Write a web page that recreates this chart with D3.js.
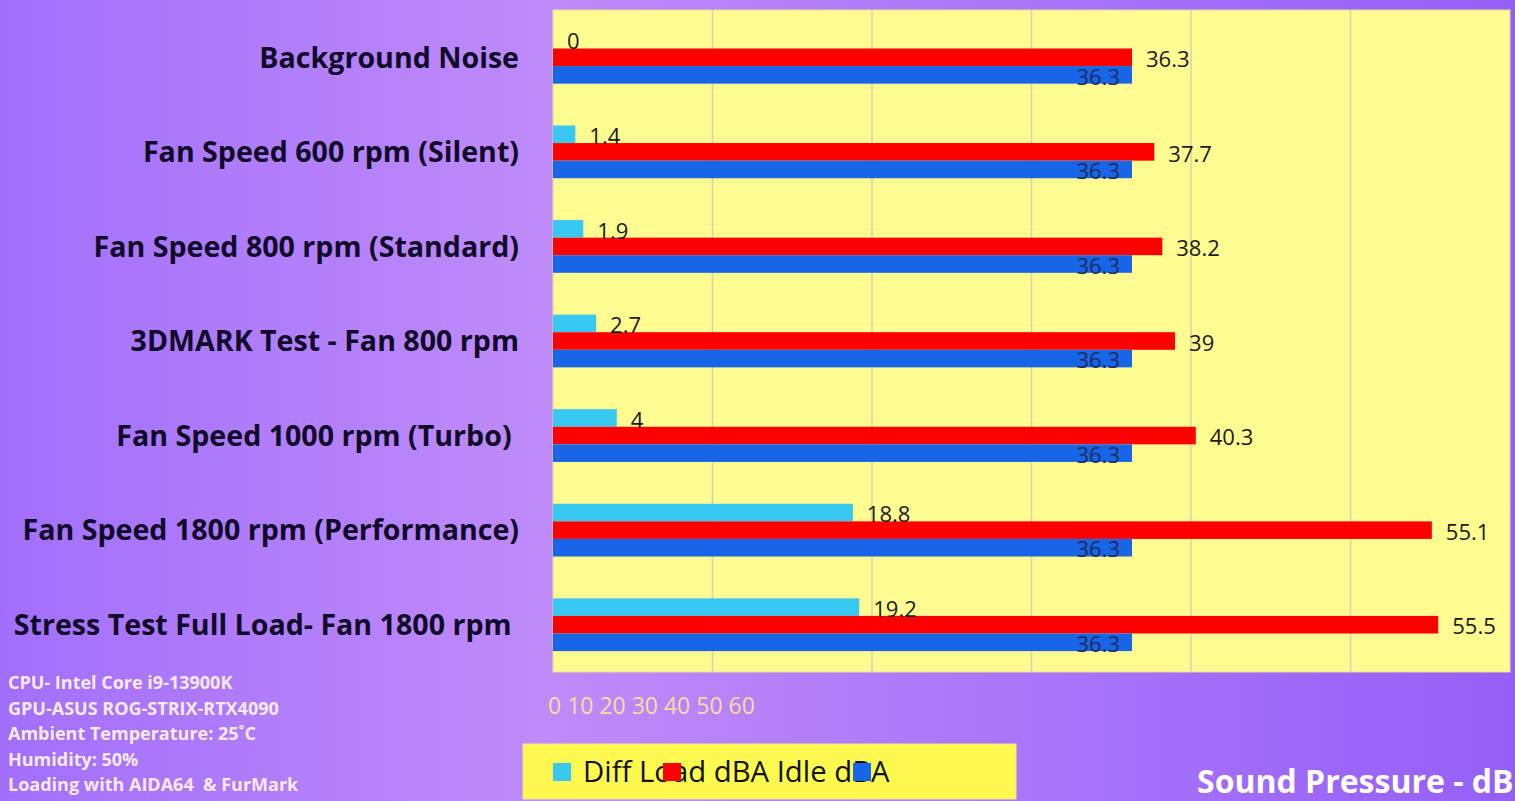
<!DOCTYPE html>
<html>
<head>
<meta charset="utf-8">
<script src="https://cdn.jsdelivr.net/npm/d3@7"></script>
<style>
    html, body { margin: 0; padding: 0; overflow: hidden; }
    text { white-space: pre; }
</style>
</head>
<body>
<svg id="chart" width="1515" height="801"></svg>
<script>
// Data
const categories = [
    "Background Noise",
    "Fan Speed 600 rpm (Silent)",
    "Fan Speed 800 rpm (Standard)",
    "3DMARK Test - Fan 800 rpm",
    "Fan Speed 1000 rpm (Turbo) ",
    "Fan Speed 1800 rpm (Performance)",
    "Stress Test Full Load- Fan 1800 rpm ",
];
const seriesNames = ["Diff", "Load dBA", "Idle dBA"];
const diffValues = [0, 1.4, 1.9, 2.7, 4, 18.8, 19.2];
const loadValues = [36.3, 37.7, 38.2, 39, 40.3, 55.1, 55.5];
const idleValues = [36.3, 36.3, 36.3, 36.3, 36.3, 36.3, 36.3];
const xDomain = [0, 60];
const notes = [
    "CPU- Intel Core i9-13900K",
    "GPU-ASUS ROG-STRIX-RTX4090",
    "Ambient Temperature: 25\u02DAC",
    "Humidity: 50%",
    "Loading with AIDA64  & FurMark",
];
const axisTitle = "Sound Pressure - dB";

const colors = { Diff: "#38c8f2", "Load dBA": "#ff0000", "Idle dBA": "#1766e8" };

const svg = d3.select("#chart");
const W = 1515, H = 801;
const plot = { left: 553, right: 1510, top: 10, bottom: 672 };

// Background gradient
const defs = svg.append("defs");
const grad = defs.append("linearGradient").attr("id", "bg").attr("x1", "0").attr("x2", "1").attr("y1", "0").attr("y2", "0");
grad.append("stop").attr("offset", "0").attr("stop-color", "#a26ffc");
grad.append("stop").attr("offset", "0.36").attr("stop-color", "#bf8bf9");
grad.append("stop").attr("offset", "0.7").attr("stop-color", "#a774fa");
grad.append("stop").attr("offset", "1").attr("stop-color", "#955ff7");
svg.append("rect").attr("width", W).attr("height", H).attr("fill", "url(#bg)");

// Scales
const x = d3.scaleLinear().domain(xDomain).range([plot.left, plot.right]);
const y0 = d3.scaleBand().domain(categories).range([plot.top, plot.bottom]);
const y1 = d3.scaleBand().domain(seriesNames).range([0, y0.bandwidth()]).paddingInner(0).paddingOuter(1.19);

// Plot area
svg.append("rect")
    .attr("x", plot.left).attr("y", plot.top)
    .attr("width", plot.right - plot.left).attr("height", plot.bottom - plot.top)
    .attr("fill", "#fffb91").attr("stroke", "#eadb9c").attr("stroke-width", 1);

// Gridlines
svg.append("g").selectAll("line")
    .data(x.ticks(6).filter((t) => t > 0 && t < xDomain[1]))
    .enter().append("line")
    .attr("x1", (d) => x(d)).attr("x2", (d) => x(d))
    .attr("y1", plot.top).attr("y2", plot.bottom)
    .attr("stroke", "#dccfae").attr("stroke-width", 1.5);

const rows = categories.map((c, i) => ({
    cat: c,
    vals: [
        { s: "Diff", v: diffValues[i] },
        { s: "Load dBA", v: loadValues[i] },
        { s: "Idle dBA", v: idleValues[i] },
    ],
}));

const groups = svg.append("g").selectAll("g")
    .data(rows).enter().append("g")
    .attr("transform", (d) => `translate(0,${y0(d.cat)})`);

groups.selectAll("rect")
    .data((d) => d.vals).enter().append("rect")
    .attr("x", x(0))
    .attr("y", (d) => y1(d.s))
    .attr("width", (d) => x(d.v) - x(0))
    .attr("height", y1.bandwidth())
    .attr("fill", (d) => colors[d.s]);

// Value labels
const valueFont = "'Open Sans', 'Noto Sans', sans-serif";
groups.selectAll("text.val")
    .data((d) => d.vals).enter().append("text")
    .attr("class", "val")
    .attr("font-family", valueFont)
    .attr("font-size", 22)
    .attr("x", (d) => d.s === "Idle dBA" ? x(d.v) - 12 : x(d.v) + 14)
    .attr("y", (d) => y1(d.s) + y1.bandwidth() + 1)
    .attr("text-anchor", (d) => d.s === "Idle dBA" ? "end" : "start")
    .attr("fill", (d) => d.s === "Idle dBA" ? "#1c2b5e" : "#1a1a1a")
    .text((d) => d.v);

// Category labels
svg.append("g").selectAll("text")
    .data(categories).enter().append("text")
    .attr("x", 519)
    .attr("y", (d) => y0(d) + y0.bandwidth() / 2)
    .attr("dy", "0.36em")
    .attr("text-anchor", "end")
    .attr("font-family", valueFont)
    .attr("font-weight", "bold")
    .attr("font-size", 28.6)
    .attr("fill", "#0f0b28")
    .text((d) => d);

// Squashed tick labels under the plot
svg.append("text")
    .attr("x", 548).attr("y", 714)
    .attr("font-family", valueFont)
    .attr("font-size", 23)
    .attr("fill", "#f7dca2")
    .text(x.ticks(6).join(" "));

// Notes
svg.append("g").selectAll("text")
    .data(notes).enter().append("text")
    .attr("x", 8)
    .attr("y", (d, i) => 689 + i * 25.5)
    .attr("font-family", valueFont)
    .attr("font-weight", "bold")
    .attr("font-size", 18)
    .attr("fill", "#f6eaf8")
    .text((d) => d);

// Legend
const legend = svg.append("g");
legend.append("rect")
    .attr("x", 523).attr("y", 744).attr("width", 493).attr("height", 55)
    .attr("fill", "#fdf94f").attr("stroke", "#eee78a");
legend.append("text")
    .attr("x", 583).attr("y", 782)
    .attr("font-family", valueFont)
    .attr("font-size", 29.3)
    .attr("fill", "#111")
    .text(seriesNames.join(" "));
const legendSwatchX = [553, 663, 853];
legend.selectAll("rect.sw")
    .data(seriesNames).enter().append("rect")
    .attr("class", "sw")
    .attr("x", (d, i) => legendSwatchX[i]).attr("y", 763)
    .attr("width", 18).attr("height", 18)
    .attr("fill", (d) => colors[d]);

// Axis title
svg.append("text")
    .attr("x", 1197).attr("y", 793)
    .attr("font-family", valueFont)
    .attr("font-weight", "bold")
    .attr("font-size", 32)
    .attr("fill", "#ffffff")
    .text(axisTitle);
</script>
</body>
</html>
